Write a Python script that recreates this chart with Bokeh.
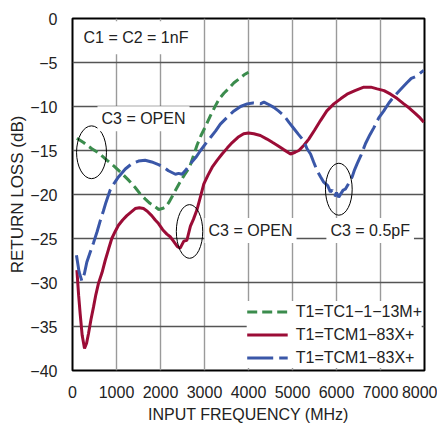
from bokeh.plotting import figure
from bokeh.models import Label, Legend, LegendItem, FixedTicker, Range1d
from bokeh.embed import file_html
from bokeh.resources import INLINE

# ---------------- data ----------------
green_x = [100, 250, 440, 600, 780, 950, 1120, 1280, 1425, 1550, 1650, 1760, 1880, 1960,
           2040, 2120, 2190, 2300, 2420, 2540, 2660, 2750, 2830, 2920, 3020, 3130, 3250,
           3340, 3440, 3560, 3670, 3800, 3900, 4000]
green_y = [-13.6, -14.1, -14.8, -15.3, -16.1, -16.8, -17.6, -18.4, -19.2, -20.0, -20.5, -21.0,
           -21.4, -21.7, -21.6, -21.4, -20.9, -19.9, -18.8, -17.8, -16.9, -15.6, -14.4, -13.3,
           -12.3, -11.1, -9.9, -9.1, -8.5, -7.9, -7.3, -6.8, -6.4, -6.1]

red_x = [100, 140, 175, 220, 273, 320, 364, 420, 477, 530, 590, 670, 743, 820, 893, 970,
         1045, 1140, 1235, 1330, 1425, 1520, 1614, 1700, 1800, 1880, 1955, 2050, 2145, 2220,
         2295, 2380, 2447, 2530, 2600, 2680, 2750, 2825, 2900, 2985, 3080, 3175, 3290, 3400,
         3520, 3630, 3760, 3890, 4000, 4120, 4270, 4420, 4550, 4650, 4800, 4955, 5060, 5145,
         5260, 5370, 5500, 5636, 5780, 5940, 6100, 6240, 6420, 6620, 6780, 6925, 7080, 7230,
         7380, 7530, 7660, 7795, 7900, 7985]
red_y = [-28.6, -31.5, -33.6, -36.0, -37.5, -36.9, -35.8, -34.2, -32.8, -31.4, -30.1, -28.9,
         -27.5, -26.2, -25.0, -24.2, -23.5, -22.9, -22.4, -22.0, -21.6, -21.5, -21.6, -21.9,
         -22.4, -22.9, -23.3, -24.0, -24.5, -24.8, -25.3, -25.9, -26.1, -25.3, -25.2, -23.6,
         -22.8, -21.8, -20.4, -18.8, -17.8, -16.9, -16.1, -15.4, -14.7, -14.1, -13.5, -13.1,
         -13.0, -13.1, -13.3, -13.7, -14.1, -14.4, -14.9, -15.4, -15.2, -15.0, -14.4, -13.7,
         -12.7, -11.6, -10.5, -9.7, -9.1, -8.6, -8.2, -7.8, -7.8, -8.0, -8.2, -8.6, -9.1,
         -9.7, -10.2, -10.8, -11.3, -11.8]

blue_x = [90, 150, 211, 270, 325, 400, 477, 560, 630, 700, 760, 856, 950, 1045, 1200, 1348,
          1500, 1650, 1800, 1955, 2075, 2180, 2340, 2410, 2490, 2580, 2680, 2800, 2910, 3030,
          3140, 3250, 3360, 3520, 3670, 3820, 3970, 4100, 4270, 4350, 4470, 4575, 4680, 4800,
          4920, 5030, 5140, 5257, 5330, 5410, 5480, 5560, 5640, 5710, 5800, 5860, 5900, 5960,
          6000, 6050, 6100, 6150, 6200, 6270, 6355, 6410, 6470, 6560, 6660, 6760, 6850, 6960,
          7075, 7190, 7300, 7450, 7600, 7700, 7800, 7880, 7980]
blue_y = [-26.9, -28.8, -29.8, -29.0, -27.7, -26.6, -25.5, -24.2, -23.0, -21.9, -20.9, -19.5,
          -18.7, -18.0, -17.1, -16.5, -16.2, -16.1, -16.3, -16.6, -16.9, -17.3, -17.7, -17.6,
          -17.7, -17.2, -16.5, -15.8, -15.0, -14.2, -13.5, -12.8, -12.0, -11.2, -10.5, -10.0,
          -9.7, -9.6, -9.7, -9.5, -9.8, -10.1, -10.5, -11.0, -11.8, -12.5, -13.2, -13.9, -14.8,
          -15.4, -16.3, -17.3, -18.0, -18.6, -19.0, -19.7, -19.5, -20.2, -19.8, -20.3, -19.9,
          -19.5, -19.4, -18.8, -18.0, -17.2, -16.5, -15.5, -14.2, -13.2, -12.4, -11.3, -10.5,
          -9.6, -8.9, -8.1, -7.3, -6.8, -6.6, -6.3, -5.9]

series_labels = ["T1=TC1\u22121\u221213M+", "T1=TCM1\u221283X+", "T1=TCM1\u221283X+"]

x_ticks = [0, 1000, 2000, 3000, 4000, 5000, 6000, 7000, 8000]
x_tick_labels = ["0", "1000", "2000", "3000", "4000", "5000", "6000", "7000", "8000"]
y_ticks = [0, -5, -10, -15, -20, -25, -30, -35, -40]
y_tick_labels = ["0", "\u22125", "\u221210", "\u221215", "\u221220", "\u221225", "\u221230",
                 "\u221235", "\u221240"]

# ellipse markers (center x, center y, width MHz, height dB)
ell_x = [432, 2660, 6053]
ell_y = [-15.2, -24.2, -19.4]
ell_w = [680, 600, 607]
ell_h = [6.0, 6.1, 5.9]

FONT = "Liberation Sans"
GREEN = "#3b8c4d"
RED = "#9b0c36"
BLUE = "#3a57a8"

p = figure(frame_width=352, frame_height=352, output_backend="svg", toolbar_location=None,
           x_range=Range1d(0, 8000), y_range=Range1d(-40, 0),
           min_border_left=72, min_border_right=13, min_border_top=18, min_border_bottom=60)

p.outline_line_color = "black"
p.outline_line_width = 2
p.background_fill_color = "white"
p.border_fill_color = "white"

p.xgrid.grid_line_color = "#9a9a9a"
p.xgrid.grid_line_width = 1.4
p.ygrid.grid_line_color = "#555555"
p.ygrid.grid_line_width = 1.4

for ax in (p.xaxis[0], p.yaxis[0]):
    ax.axis_line_color = None
    ax.major_tick_line_color = None
    ax.minor_tick_line_color = None
    ax.major_label_text_font = FONT
    ax.major_label_text_font_size = "16px"
    ax.major_label_text_color = "#222222"
    ax.axis_label_text_font = FONT
    ax.axis_label_text_font_size = "16px"
    ax.axis_label_text_font_style = "normal"
    ax.axis_label_text_color = "#222222"

p.yaxis.axis_label_text_font_size = "17px"
p.xaxis.ticker = FixedTicker(ticks=x_ticks)
p.yaxis.ticker = FixedTicker(ticks=y_ticks)
p.xaxis.major_label_overrides = dict(zip(x_ticks, x_tick_labels))
p.yaxis.major_label_overrides = dict(zip(y_ticks, y_tick_labels))
p.xaxis.axis_label = "INPUT FREQUENCY (MHz)"
p.yaxis.axis_label = "RETURN LOSS (dB)"
p.xaxis.major_label_standoff = 9
p.xaxis.axis_label_standoff = 5
p.yaxis.major_label_standoff = 9
p.yaxis.axis_label_standoff = 0

# text boxes (white backgrounds break the grid)
def add_label(x, y, text, pad):
    lab = Label(x=x, y=y, text=text, text_font=FONT, text_font_size="16px",
                text_color="#222222", text_align="left", text_baseline="middle",
                background_fill_color="white", padding=pad)
    p.add_layout(lab)

add_label(68, -2.2, "C1 = C2 = 1nF", 8)
add_label(568, -11.4, "C3 = OPEN", 4)
add_label(3000, -24.1, "C3 = OPEN", 4)
add_label(5770, -24.1, "C3 = 0.5pF", 4)

g = p.line(green_x, green_y, line_color=GREEN, line_width=3, line_dash="10 5")
r = p.line(red_x, red_y, line_color=RED, line_width=3)
b = p.line(blue_x, blue_y, line_color=BLUE, line_width=3, line_dash="26 6")

p.ellipse(x=ell_x, y=ell_y, width=ell_w, height=ell_h, fill_color=None,
          line_color="black", line_width=1)

legend = Legend(items=[LegendItem(label=series_labels[0], renderers=[g]),
                       LegendItem(label=series_labels[1], renderers=[r]),
                       LegendItem(label=series_labels[2], renderers=[b])],
                location="bottom_right", margin=2, padding=4, spacing=2,
                glyph_width=41, glyph_height=21, label_height=21, label_standoff=8,
                label_text_font=FONT, label_text_font_size="16px",
                label_text_color="#222222", border_line_color=None,
                background_fill_color="white", background_fill_alpha=1.0)
p.add_layout(legend)

p.add_layout(Label(x=8182, y=-46.1, text="5562 F05", text_font=FONT,
                   text_font_size="10px", text_color="#222222", text_align="right",
                   text_baseline="middle"))

open("out.html", "w").write(file_html(p, INLINE))
